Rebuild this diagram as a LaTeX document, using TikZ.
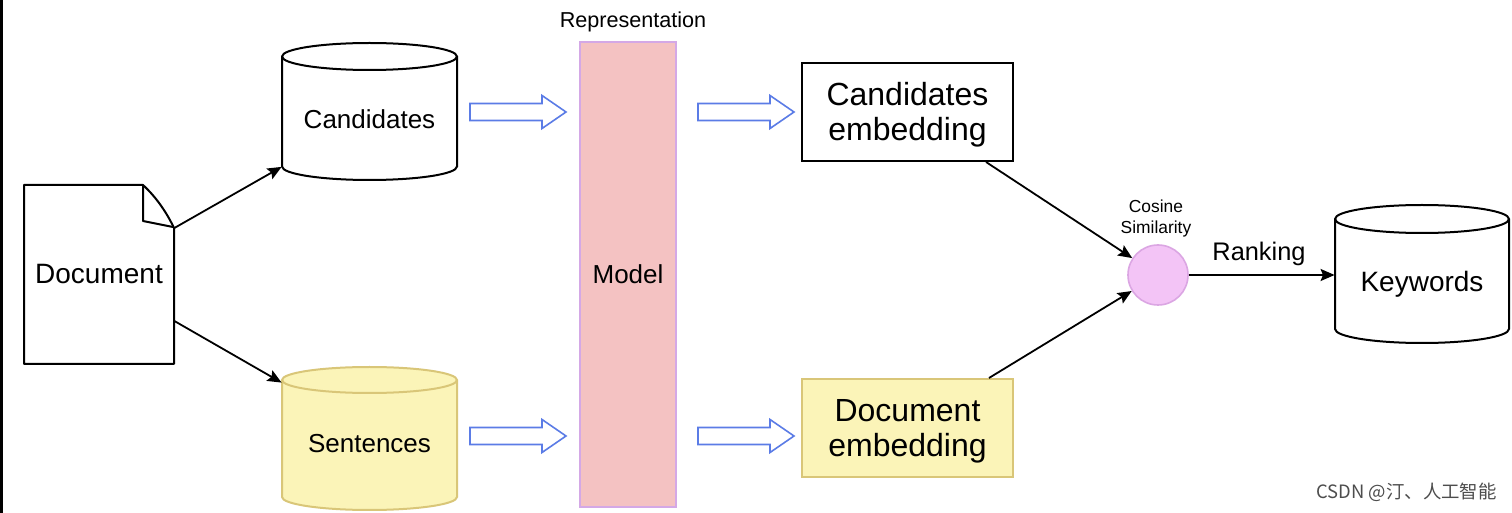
\documentclass[tikz,border=0pt]{standalone}
\usepackage{fontspec}
\setmainfont{Liberation Sans}
\newfontfamily\cjkfont{Noto Sans CJK SC}
\usetikzlibrary{arrows.meta,calc}
\definecolor{yfill}{HTML}{FBF4B8}
\definecolor{ydraw}{HTML}{D9C678}
\definecolor{mfill}{HTML}{F4C2C2}
\definecolor{mdraw}{HTML}{D4A8E6}
\definecolor{cfill}{HTML}{F3C4F6}
\definecolor{cdraw}{HTML}{DBA6E3}
\definecolor{ablue}{HTML}{5B7CE6}
\definecolor{csdngray}{HTML}{4D4D4D}
\newcommand\fs[2]{\fontsize{#1}{#2}\selectfont}
\newcommand\twolines[2]{\raisebox{-2.2pt}[\height][\depth]{\begin{tabular}{@{}c@{}}#1\\#2\end{tabular}}}
\newcommand\blockarrow[2]{%
  \draw[barrow] (#1,{#2-8.5}) -- ({#1+72},{#2-8.5}) -- ({#1+72},{#2-16.5}) -- ({#1+96},#2)
    -- ({#1+72},{#2+16.5}) -- ({#1+72},{#2+8.5}) -- (#1,{#2+8.5}) -- cycle;}
\begin{document}
\begin{tikzpicture}[x=0.5pt,y=-0.5pt,
  box/.style={rectangle, inner sep=0pt, align=center},
  conn/.style={line width=0.9pt, -{Stealth[length=7pt,width=6pt,inset=1.2pt]}},
  barrow/.style={draw=ablue, line width=0.8pt, fill=white, line join=miter},
  cyl/.style={line width=1pt},
  lbl/.style={inner sep=0pt}]
\useasboundingbox (0,0) rectangle (1512,513);
\fill[white] (0,0) rectangle (1512,513);
\fill[black] (0,0) rectangle (3,513);

% Document shape
\draw[line width=1pt, line join=round, fill=white] (24,185) -- (143,185) .. controls (155,196) and (166,211) .. (174,228) -- (174,364) -- (24,364) -- cycle;
\draw[line width=1pt, line join=round] (143,185) -- (143,221) -- (173,227);
\node[box, minimum width=75pt, minimum height=89.5pt, font=\fs{14}{16}] (doc) at (99,274.5) {Document};

% Candidates cylinder
\filldraw[cyl, fill=white, draw=black] (282,56.5) -- (282,166.5)
  arc[start angle=180,end angle=360,x radius=43.75pt,y radius=6.75pt] -- (457,56.5)
  arc[start angle=0,end angle=180,x radius=43.75pt,y radius=6.75pt] -- cycle;
\draw[cyl] (282,56.5) arc[start angle=180,end angle=360,x radius=43.75pt,y radius=6.75pt];
\node[box, minimum width=87.5pt, minimum height=47.5pt, font=\fs{13}{15}] (cand) at (369.5,119) {Candidates};

% Sentences cylinder
\filldraw[cyl, fill=yfill, draw=ydraw] (282,380) -- (282,497)
  arc[start angle=180,end angle=360,x radius=43.75pt,y radius=6.5pt] -- (457,380)
  arc[start angle=0,end angle=180,x radius=43.75pt,y radius=6.5pt] -- cycle;
\draw[cyl, draw=ydraw] (282,380) arc[start angle=180,end angle=360,x radius=43.75pt,y radius=6.5pt];
\node[box, minimum width=87.5pt, minimum height=61pt, font=\fs{13}{15}] (sent) at (369.5,444) {Sentences};

% Model
\node[box, fill=mfill, draw=mdraw, line width=0.8pt, minimum width=48pt, minimum height=232.5pt, font=\fs{13}{15}] (model) at (628,274.5) {Model};
\node[lbl, font=\fs{10.8}{13}] (repr) at (633,22) {Representation};

% Block arrows
\blockarrow{470}{112}
\blockarrow{698}{112}
\blockarrow{470}{436}
\blockarrow{698}{436}

% Embeddings
\node[box, draw=black, line width=1pt, fill=white, minimum width=105.5pt, minimum height=49pt, font=\fs{16}{17.5}] (cemb) at (907.5,112) {\twolines{Candidates}{embedding}};
\node[box, draw=ydraw, line width=1pt, fill=yfill, minimum width=105.5pt, minimum height=49pt, font=\fs{16}{17.5}] (demb) at (907.5,428) {\twolines{Document}{embedding}};

% Cosine similarity
\node[circle, fill=cfill, draw=cdraw, line width=0.8pt, minimum size=30pt, inner sep=0pt] (circ) at (1158,275) {};
\node[lbl, align=center, font=\fs{8.7}{10.5}] (cos) at (1156,218.5) {Cosine\\Similarity};

% Keywords cylinder
\filldraw[cyl, fill=white, draw=black] (1335,219) -- (1335,329)
  arc[start angle=180,end angle=360,x radius=43.5pt,y radius=7pt] -- (1509,219)
  arc[start angle=0,end angle=180,x radius=43.5pt,y radius=7pt] -- cycle;
\draw[cyl] (1335,219) arc[start angle=180,end angle=360,x radius=43.5pt,y radius=7pt];
\node[box, minimum width=87pt, minimum height=45pt, font=\fs{14}{16}] (kw) at (1422,284) {Keywords};

% Connectors
\draw[conn] ($(doc.east)+(0,-46.5)$) -- (cand.south west);
\draw[conn] ($(doc.east)+(0,46.5)$) -- (sent.north west);
\draw[conn] ($(cemb.south east)+(-28,0)$) -- (circ);
\draw[conn] ($(demb.north east)+(-25,0)$) -- (circ);
\draw[conn] (circ.east) -- (circ.east -| kw.west);
\node[lbl, font=\fs{12.7}{15}] (rank) at (1259,254) {Ranking};

% Credit
\node[lbl, anchor=east, text=csdngray, font=\cjkfont\fs{9.2}{11}] (csdn) at (1497,492) {CSDN @汀、人工智能};
\end{tikzpicture}
\end{document}
